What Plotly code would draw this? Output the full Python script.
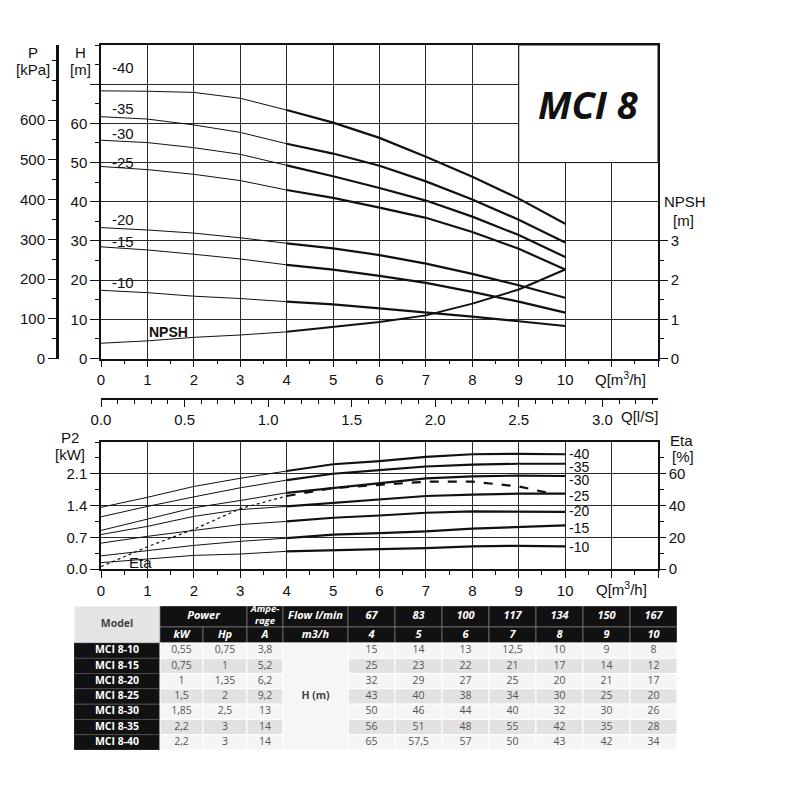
import plotly.graph_objects as go

# ---- pump curve data ----
q_m3h = [0, 1, 2, 3, 4, 5, 6, 7, 8, 9, 10]
stages = ['-10', '-15', '-20', '-25', '-30', '-35', '-40']

head_10 = [17.4, 16.8, 15.9, 15.3, 14.5, 13.8, 12.8, 11.8, 10.7, 9.5, 8.3]
head_15 = [28.5, 27.7, 26.6, 25.4, 23.9, 22.7, 21.1, 19.3, 17.0, 14.5, 11.7]
head_20 = [33.4, 32.8, 32.0, 30.8, 29.4, 28.1, 26.4, 24.2, 21.6, 18.7, 15.5]
head_25 = [49.0, 48.2, 47.0, 45.4, 43.0, 41.0, 38.5, 35.9, 32.3, 28.0, 22.7]
head_30 = [55.7, 55.1, 53.8, 52.1, 49.3, 46.5, 43.5, 40.3, 36.2, 31.5, 25.9]
head_35 = [61.7, 61.1, 59.6, 57.7, 54.8, 52.3, 49.2, 45.2, 40.6, 35.4, 29.6]
head_40 = [68.3, 68.2, 67.9, 66.4, 63.4, 60.2, 56.3, 51.5, 46.4, 40.8, 34.4]

npsh_m = [0.39, 0.45, 0.54, 0.60, 0.68, 0.80, 0.93, 1.10, 1.40, 1.76, 2.27]

p2_10 = [0.14, 0.22, 0.30, 0.33, 0.39, 0.42, 0.44, 0.46, 0.50, 0.51, 0.50]
p2_15 = [0.29, 0.41, 0.52, 0.61, 0.68, 0.76, 0.79, 0.83, 0.89, 0.93, 0.96]
p2_20 = [0.57, 0.72, 0.85, 0.98, 1.05, 1.13, 1.18, 1.24, 1.27, 1.27, 1.26]
p2_25 = [0.76, 0.94, 1.16, 1.31, 1.38, 1.46, 1.53, 1.61, 1.64, 1.66, 1.66]
p2_30 = [0.85, 1.10, 1.35, 1.51, 1.68, 1.79, 1.90, 2.00, 2.04, 2.06, 2.05]
p2_35 = [1.15, 1.38, 1.59, 1.79, 1.96, 2.10, 2.18, 2.26, 2.30, 2.32, 2.32]
p2_40 = [1.36, 1.58, 1.82, 2.00, 2.16, 2.31, 2.38, 2.47, 2.53, 2.54, 2.53]

q_eta = [0, 1, 2, 3, 4, 5, 6, 7, 8, 9, 9.7]
eta_pct = [1.5, 14, 25, 38, 46, 51, 53, 55, 55, 52, 47.5]

# ---- table data ----
models = ['MCI 8-10', 'MCI 8-15', 'MCI 8-20', 'MCI 8-25', 'MCI 8-30', 'MCI 8-35', 'MCI 8-40']
power_kw = [0.55, 0.75, 1, 1.5, 1.85, 2.2, 2.2]
power_hp = [0.75, 1, 1.35, 2, 2.5, 3, 3]
amperage = [3.8, 5.2, 6.2, 9.2, 13, 14, 14]
flow_lmin = [67, 83, 100, 117, 134, 150, 167]
flow_m3h = [4, 5, 6, 7, 8, 9, 10]
tab_head_10 = [15, 14, 13, 12.5, 10, 9, 8]
tab_head_15 = [25, 23, 22, 21, 17, 14, 12]
tab_head_20 = [32, 29, 27, 25, 20, 21, 17]
tab_head_25 = [43, 40, 38, 34, 30, 25, 20]
tab_head_30 = [50, 46, 44, 40, 32, 30, 26]
tab_head_35 = [56, 51, 48, 55, 42, 35, 28]
tab_head_40 = [65, 57.5, 57, 50, 43, 42, 34]

head_curves = [head_10, head_15, head_20, head_25, head_30, head_35, head_40]
p2_curves = [p2_10, p2_15, p2_20, p2_25, p2_30, p2_35, p2_40]
tab_heads = [tab_head_10, tab_head_15, tab_head_20, tab_head_25, tab_head_30, tab_head_35, tab_head_40]

FONT = 'Liberation Sans, Arial, sans-serif'
TFONT = 'Open Sans, sans-serif'
INK = '#111'
OFF = 8  # the page body margin shifts the whole figure by 8px


def px(x):
    return (x - OFF) / 800.0


def py(y):
    return 1 - (y - OFF) / 800.0


def fmt(v):
    return ('%g' % v).replace('.', ',')


fig = go.Figure()

# top chart: H curves, thin outside the working range, thick inside
for h in head_curves:
    fig.add_trace(go.Scatter(x=q_m3h[:5], y=h[:5], mode='lines', line=dict(color=INK, width=1)))
    fig.add_trace(go.Scatter(x=q_m3h[4:], y=h[4:], mode='lines', line=dict(color=INK, width=2.2)))
fig.add_trace(go.Scatter(x=q_m3h[:5], y=npsh_m[:5], yaxis='y3', mode='lines', line=dict(color=INK, width=1)))
fig.add_trace(go.Scatter(x=q_m3h[4:], y=npsh_m[4:], yaxis='y3', mode='lines', line=dict(color=INK, width=2)))
# dummies so the extra axes get drawn
fig.add_trace(go.Scatter(x=[None], y=[None], yaxis='y2', mode='lines'))
fig.add_trace(go.Scatter(x=[None], y=[None], xaxis='x2', yaxis='y', mode='lines'))

# bottom chart: P2 and Eta
for p in p2_curves:
    fig.add_trace(go.Scatter(x=q_m3h[:5], y=p[:5], xaxis='x3', yaxis='y4', mode='lines', line=dict(color=INK, width=1)))
    fig.add_trace(go.Scatter(x=q_m3h[4:], y=p[4:], xaxis='x3', yaxis='y4', mode='lines', line=dict(color=INK, width=2.2)))
fig.add_trace(go.Scatter(x=q_eta[:5], y=eta_pct[:5], xaxis='x3', yaxis='y5', mode='lines',
                         line=dict(color=INK, width=1.2, dash='dot')))
fig.add_trace(go.Scatter(x=q_eta[4:], y=eta_pct[4:], xaxis='x3', yaxis='y5', mode='lines',
                         line=dict(color=INK, width=2.2, dash='dash')))

# ---- table, drawn on its own hidden axes ----
col_w = [86, 43, 44, 36, 65] + [47] * 7
row_h = [21, 16] + [15.3] * 7
cx_e = [0]
for w in col_w:
    cx_e.append(cx_e[-1] + w)
ry_e = [0]
for h in row_h:
    ry_e.append(ry_e[-1] + h)


def cell(c0, c1, r0, r1, fill, line='white', lw=1):
    fig.add_shape(type='rect', xref='x4', yref='y6', x0=cx_e[c0], x1=cx_e[c1], y0=ry_e[r0], y1=ry_e[r1],
                  fillcolor=fill, line=dict(color=line, width=lw), layer='below')


def cc(c0, c1):
    return (cx_e[c0] + cx_e[c1]) / 2.0


def rc(r0, r1):
    return (ry_e[r0] + ry_e[r1]) / 2.0


cell(0, 1, 0, 2, '#e4e4e4')
cell(1, 3, 0, 1, '#111', '#777', 0.8)
cell(3, 4, 0, 1, '#111', '#777', 0.8)
cell(4, 5, 0, 1, '#111', '#777', 0.8)
for c in range(5, 12):
    cell(c, c + 1, 0, 1, '#111', '#777', 0.8)
for c in range(1, 12):
    cell(c, c + 1, 1, 2, '#111', '#777', 0.8)
for i in range(len(models)):
    r = i + 2
    cell(0, 1, r, r + 1, '#111', '#555', 0.6)
    fill = '#f5f5f5' if i % 2 == 0 else '#e2e2e2'
    for c in [1, 2, 3] + list(range(5, 12)):
        cell(c, c + 1, r, r + 1, fill)
cell(4, 5, 2, 9, '#f6f6f6')

hx, hy, ht = [], [], []
hx.append(cc(1, 3)); hy.append(rc(0, 1)); ht.append('Power')
hx.append(cc(4, 5)); hy.append(rc(0, 1)); ht.append('Flow l/min')
for k, v in enumerate(flow_lmin):
    hx.append(cc(5 + k, 6 + k)); hy.append(rc(0, 1)); ht.append(str(v))
for k, lab in enumerate(['kW', 'Hp', 'A', 'm3/h']):
    hx.append(cc(1 + k, 2 + k)); hy.append(rc(1, 2)); ht.append(lab)
for k, v in enumerate(flow_m3h):
    hx.append(cc(5 + k, 6 + k)); hy.append(rc(1, 2)); ht.append(str(v))
fig.add_trace(go.Scatter(x=hx, y=hy, text=ht, mode='text', xaxis='x4', yaxis='y6', cliponaxis=False,
                         textfont=dict(family=TFONT, size=11, color='white', weight='bold', style='italic')))
fig.add_trace(go.Scatter(x=[cc(3, 4)], y=[rc(0, 1) - 1], text=['Ampe-<br>rage'], mode='text', xaxis='x4', yaxis='y6',
                         cliponaxis=False,
                         textfont=dict(family=TFONT, size=9.5, color='white', weight='bold', style='italic')))
fig.add_trace(go.Scatter(x=[cc(0, 1), cc(4, 5)], y=[rc(0, 2), rc(2, 9)], text=['Model', 'H (m)'], mode='text',
                         xaxis='x4', yaxis='y6', cliponaxis=False,
                         textfont=dict(family=TFONT, size=10.5, color='#444', weight='bold')))
fig.add_trace(go.Scatter(x=[cc(0, 1)] * len(models), y=[rc(i + 2, i + 3) for i in range(len(models))], text=models,
                         mode='text', xaxis='x4', yaxis='y6', cliponaxis=False,
                         textfont=dict(family=TFONT, size=10.5, color='white', weight='bold')))
dx, dy, dt = [], [], []
for i in range(len(models)):
    yy = rc(i + 2, i + 3)
    row = [power_kw[i], power_hp[i], amperage[i]]
    for k, v in enumerate(row):
        dx.append(cc(1 + k, 2 + k)); dy.append(yy); dt.append(fmt(v))
    for k, v in enumerate(tab_heads[i]):
        dx.append(cc(5 + k, 6 + k)); dy.append(yy); dt.append(fmt(v))
fig.add_trace(go.Scatter(x=dx, y=dy, text=dt, mode='text', xaxis='x4', yaxis='y6', cliponaxis=False,
                         textfont=dict(family=TFONT, size=10.5, color='#555')))

# ---- annotations ----
ann = []
top_lab_h = [19.5, 29.9, 35.5, 50.0, 57.4, 63.7, 74.2]
for s, yv in zip(stages, top_lab_h):
    ann.append(dict(x=0.2, y=yv, xref='x', yref='y', text=s, xanchor='left', showarrow=False,
                    font=dict(family=FONT, size=15, color=INK)))
bot_lab_p = [0.49, 0.91, 1.27, 1.62, 1.96, 2.24, 2.53]
for s, yv in zip(stages, bot_lab_p):
    ann.append(dict(x=10.05, y=yv, xref='x3', yref='y4', text=s, xanchor='left', showarrow=False,
                    font=dict(family=FONT, size=14, color=INK)))
ann.append(dict(x=1.0, y=6.8, xref='x', yref='y', text='<b>NPSH</b>', xanchor='left', showarrow=False,
                font=dict(family=FONT, size=14, color=INK)))
ann.append(dict(x=0.55, y=0.14, xref='x3', yref='y4', text='Eta', xanchor='left', showarrow=False,
                font=dict(family=FONT, size=15, color=INK)))
ann.append(dict(x=10.5, y=65, xref='x', yref='y', text='<b><i>MCI 8</i></b>', showarrow=False,
                font=dict(family='Open Sans, sans-serif', size=38, color=INK)))


def paper_text(x, y, t, size=15, anchor='center'):
    ann.append(dict(x=px(x), y=py(y), xref='paper', yref='paper', text=t, showarrow=False, xanchor=anchor,
                    yanchor='middle', font=dict(family=FONT, size=size, color=INK)))


paper_text(33, 52, 'P')
paper_text(33, 69, '[kPa]')
paper_text(80, 52, 'H')
paper_text(80, 69, '[m]')
paper_text(662, 202, 'NPSH', anchor='left')
paper_text(683, 220, '[m]')
paper_text(620, 378, 'Q[m<sup>3</sup>/h]')
paper_text(640, 416, 'Q[l/S]')
paper_text(70, 437, 'P2')
paper_text(70, 454, '[kW]')
paper_text(681, 440, 'Eta')
paper_text(683, 456, '[%]')
paper_text(621, 588, 'Q[m<sup>3</sup>/h]')

tickf = dict(family=FONT, size=15, color=INK)
base = dict(showline=True, linecolor=INK, linewidth=1.5, ticks='outside', tickcolor=INK, tickwidth=1.3,
            tickfont=tickf, zeroline=False, fixedrange=True, automargin=False)
grid = dict(showgrid=True, gridcolor='#2a2a2a', gridwidth=1)


def minor(**kw):
    d = dict(ticks='outside', ticklen=4, tickcolor=INK, tickwidth=1, showgrid=False)
    d.update(kw)
    return d


fig.update_layout(
    width=800, height=800, margin=dict(l=0, r=0, t=0, b=0, autoexpand=False),
    paper_bgcolor='white', plot_bgcolor='white', showlegend=False, hovermode=False,
    annotations=ann,
    xaxis=dict(base, **grid, domain=[px(101), px(658)], anchor='y', range=[0, 12], mirror=True,
               tickmode='array', tickvals=list(range(13)), ticktext=[str(i) for i in range(11)] + ['', ''],
               ticklen=7, minor=minor(tickmode='linear', tick0=0, dtick=0.5)),
    yaxis=dict(base, **grid, domain=[py(358.5), py(45)], anchor='x', range=[0, 80], mirror=True,
               tickmode='array', tickvals=list(range(0, 80, 10)),
               ticktext=[str(v) for v in range(0, 70, 10)] + [''],
               ticklen=9, minor=minor(tickmode='linear', tick0=0, dtick=5)),
    yaxis2=dict(base, overlaying='y', anchor='free', position=px(57), side='left', range=[0, 789],
                linewidth=3, showgrid=False, tickmode='array', tickvals=list(range(0, 700, 100)),
                ticklen=8, minor=minor(tickmode='linear', tick0=0, dtick=50)),
    yaxis3=dict(base, overlaying='y', anchor='x', side='right', range=[0, 8], showgrid=False,
                tickmode='array', tickvals=[0, 1, 2, 3], ticklen=8,
                minor=minor(tickmode='array', tickvals=[0.5, 1.5, 2.5])),
    xaxis2=dict(base, overlaying='x', anchor='free', position=py(399), side='bottom', range=[0, 12 / 3.6],
                showgrid=False, tickmode='array', tickvals=[0, 0.5, 1, 1.5, 2, 2.5, 3],
                ticktext=['0.0', '0.5', '1.0', '1.5', '2.0', '2.5', '3.0'], ticklen=7,
                minor=minor(tickmode='linear', tick0=0, dtick=0.1)),
    xaxis3=dict(base, **grid, domain=[px(101), px(658)], anchor='y4', range=[0, 12], mirror=True,
                tickmode='array', tickvals=list(range(13)), ticktext=[str(i) for i in range(11)] + ['', ''],
                ticklen=7, minor=minor(tickmode='linear', tick0=0, dtick=0.5)),
    yaxis4=dict(base, **grid, domain=[py(569), py(442)], anchor='x3', range=[0, 2.8], mirror=True,
                tickmode='array', tickvals=[0, 0.7, 1.4, 2.1], ticktext=['0.0', '0.7', '1.4', '2.1'],
                ticklen=9, minor=minor(tickmode='linear', tick0=0, dtick=0.35)),
    yaxis5=dict(base, overlaying='y4', anchor='x3', side='right', range=[0, 80], showgrid=False,
                tickmode='array', tickvals=[0, 20, 40, 60], ticklen=6,
                minor=minor(tickmode='array', tickvals=[10, 30, 50, 70])),
    xaxis4=dict(domain=[px(74), px(677)], anchor='y6', range=[0, sum(col_w)], visible=False, fixedrange=True),
    yaxis6=dict(domain=[py(750), py(606)], anchor='x4', range=[sum(row_h), 0], visible=False, fixedrange=True),
)

# "MCI 8" box: blank out the grid in the top-right corner
fig.add_shape(type='rect', xref='x', yref='y', x0=9, x1=12, y0=50, y1=80, fillcolor='white',
              line=dict(color=INK, width=1), layer='between')

fig.write_html('out.html')
